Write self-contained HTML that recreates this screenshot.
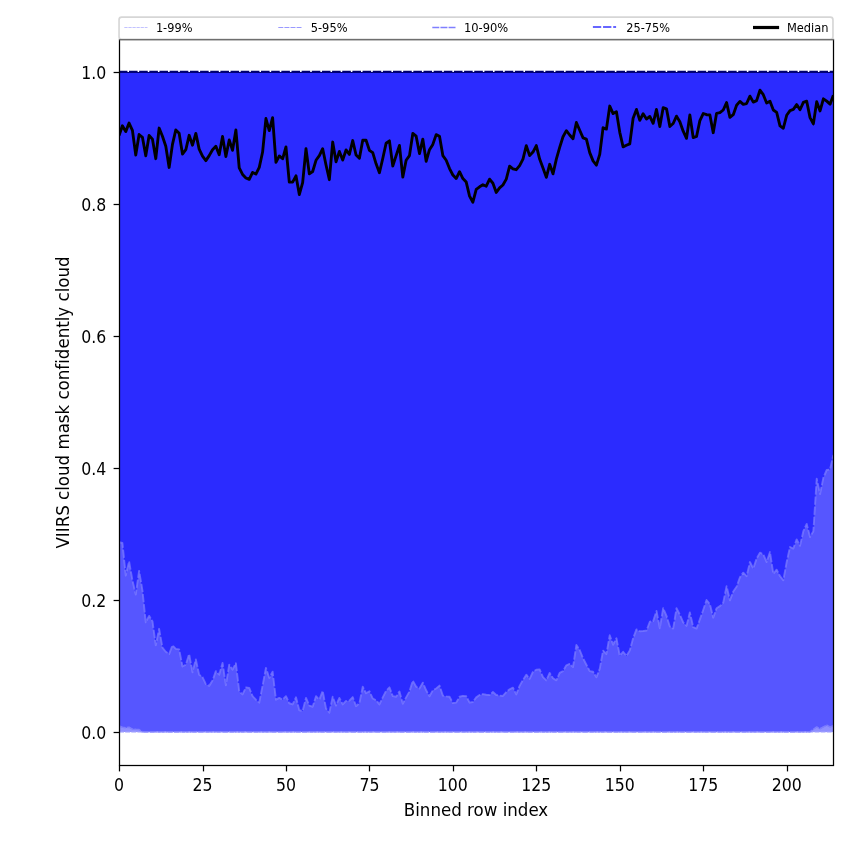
<!DOCTYPE html>
<html lang="en"><head><meta charset="utf-8"><title>VIIRS cloud mask confidently cloud</title>
<style>html,body{margin:0;padding:0;background:#fff;}body{width:850px;height:850px;overflow:hidden;}svg{display:block;}text{font-family:"DejaVu Sans", "Liberation Sans", sans-serif;fill:#000;font-variant-ligatures:none;font-feature-settings:"liga" 0,"clig" 0;}</style></head><body>
<svg width="850" height="850" viewBox="0 0 850 850">
<rect x="0" y="0" width="850" height="850" fill="#ffffff"/>
<clipPath id="ax"><rect x="119.0" y="39.0" width="715.0" height="727.0"/></clipPath>
<g clip-path="url(#ax)">
<rect x="119.0" y="72.0" width="715.0" height="660.0" fill="#8f8fff"/>
<polygon fill="#5656ff" points="119.0,72.0 119.0,726.1 119.06,726.10 122.40,727.50 125.74,728.00 129.07,727.50 132.41,729.30 135.75,729.60 139.09,729.80 142.43,732.00 145.76,732.00 149.10,732.00 152.44,732.00 155.78,732.00 159.12,732.00 162.45,732.00 165.79,732.00 169.13,732.00 172.47,732.00 175.81,732.00 179.14,732.00 182.48,732.00 185.82,732.00 189.16,732.00 192.50,732.00 195.83,732.00 199.17,732.00 202.51,732.00 205.85,732.00 209.19,732.00 212.53,732.00 215.86,732.00 219.20,732.00 222.54,732.00 225.88,732.00 229.22,732.00 232.55,732.00 235.89,732.00 239.23,732.00 242.57,732.00 245.91,732.00 249.24,732.00 252.58,732.00 255.92,732.00 259.26,732.00 262.60,732.00 265.93,732.00 269.27,732.00 272.61,732.00 275.95,732.00 279.29,732.00 282.62,732.00 285.96,732.00 289.30,732.00 292.64,732.00 295.98,732.00 299.31,732.00 302.65,732.00 305.99,732.00 309.33,732.00 312.67,732.00 316.00,732.00 319.34,732.00 322.68,732.00 326.02,732.00 329.36,732.00 332.69,732.00 336.03,732.00 339.37,732.00 342.71,732.00 346.05,732.00 349.38,732.00 352.72,732.00 356.06,732.00 359.40,732.00 362.74,732.00 366.07,732.00 369.41,732.00 372.75,732.00 376.09,732.00 379.43,732.00 382.76,732.00 386.10,732.00 389.44,732.00 392.78,732.00 396.12,732.00 399.46,732.00 402.79,732.00 406.13,732.00 409.47,732.00 412.81,732.00 416.15,732.00 419.48,732.00 422.82,732.00 426.16,732.00 429.50,732.00 432.84,732.00 436.17,732.00 439.51,732.00 442.85,732.00 446.19,732.00 449.53,732.00 452.86,732.00 456.20,732.00 459.54,732.00 462.88,732.00 466.22,732.00 469.55,732.00 472.89,732.00 476.23,732.00 479.57,732.00 482.91,732.00 486.24,732.00 489.58,732.00 492.92,732.00 496.26,732.00 499.60,732.00 502.93,732.00 506.27,732.00 509.61,732.00 512.95,732.00 516.29,732.00 519.62,732.00 522.96,732.00 526.30,732.00 529.64,732.00 532.98,732.00 536.31,732.00 539.65,732.00 542.99,732.00 546.33,732.00 549.67,732.00 553.00,732.00 556.34,732.00 559.68,732.00 563.02,732.00 566.36,732.00 569.70,732.00 573.03,732.00 576.37,732.00 579.71,732.00 583.05,732.00 586.39,732.00 589.72,732.00 593.06,732.00 596.40,732.00 599.74,732.00 603.08,732.00 606.41,732.00 609.75,732.00 613.09,732.00 616.43,732.00 619.77,732.00 623.10,732.00 626.44,732.00 629.78,732.00 633.12,732.00 636.46,732.00 639.79,732.00 643.13,732.00 646.47,732.00 649.81,732.00 653.15,732.00 656.48,732.00 659.82,732.00 663.16,732.00 666.50,732.00 669.84,732.00 673.17,732.00 676.51,732.00 679.85,732.00 683.19,732.00 686.53,732.00 689.86,732.00 693.20,732.00 696.54,732.00 699.88,732.00 703.22,732.00 706.55,732.00 709.89,732.00 713.23,732.00 716.57,732.00 719.91,732.00 723.24,732.00 726.58,732.00 729.92,732.00 733.26,732.00 736.60,732.00 739.93,732.00 743.27,732.00 746.61,732.00 749.95,732.00 753.29,732.00 756.63,732.00 759.96,732.00 763.30,732.00 766.64,732.00 769.98,732.00 773.32,732.00 776.65,732.00 779.99,732.00 783.33,732.00 786.67,732.00 790.01,732.00 793.34,732.00 796.68,732.00 800.02,732.00 803.36,732.00 806.70,732.00 810.03,732.00 813.37,729.50 816.71,727.20 820.05,729.00 823.39,727.20 826.72,725.40 830.06,727.20 833.40,725.80 834.0,725.8 834.0,72.0"/>
<polygon fill="#2b2bff" points="119.0,72.0 119.0,542.29 119.06,542.29 122.40,543.00 125.74,575.61 129.07,561.47 132.41,580.29 135.75,594.65 139.09,570.88 142.43,590.29 145.76,622.35 149.10,615.88 152.44,621.18 155.78,645.29 159.12,628.82 162.45,647.65 165.79,651.76 169.13,654.12 172.47,645.29 175.81,648.82 179.14,649.41 182.48,666.47 185.82,664.71 189.16,654.12 192.50,672.35 195.83,659.41 199.17,674.71 202.51,677.06 205.85,684.12 209.19,685.88 212.53,680.59 215.86,671.18 219.20,674.71 222.54,662.94 225.88,685.29 229.22,664.65 232.55,669.71 235.89,663.24 239.23,691.47 242.57,694.41 245.91,687.35 249.24,687.94 252.58,696.18 255.92,699.71 259.26,702.65 262.60,685.59 265.93,667.94 269.27,677.94 272.61,671.71 275.95,699.71 279.29,697.94 282.62,699.71 285.96,696.18 289.30,703.24 292.64,704.41 295.98,697.35 299.31,710.29 302.65,710.88 305.99,697.94 309.33,705.59 312.67,706.76 316.00,696.18 319.34,699.71 322.68,690.88 326.02,708.53 329.36,712.65 332.69,696.76 336.03,705.59 339.37,697.94 342.71,704.41 346.05,700.88 349.38,700.65 352.72,697.12 356.06,706.18 359.40,703.24 362.74,686.76 366.07,693.24 369.41,691.24 372.75,698.53 376.09,700.29 379.43,704.41 382.76,697.35 386.10,690.88 389.44,687.35 392.78,696.18 396.12,696.76 399.46,691.47 402.79,703.82 406.13,697.35 409.47,691.47 412.81,680.65 416.15,686.76 419.48,688.53 422.82,682.65 426.16,690.29 429.50,696.18 432.84,690.29 436.17,688.53 439.51,685.59 442.85,695.59 446.19,696.41 449.53,696.76 452.86,703.00 456.20,702.65 459.54,696.76 462.88,695.82 466.22,696.18 469.55,702.65 472.89,702.06 476.23,697.35 479.57,695.00 482.91,694.06 486.24,694.76 489.58,695.00 492.92,692.06 496.26,695.00 499.60,695.59 502.93,695.94 506.27,692.06 509.61,689.35 512.95,687.71 516.29,694.41 519.62,685.88 522.96,680.00 526.30,674.71 529.64,678.82 532.98,671.76 536.31,669.76 539.65,669.41 542.99,677.06 546.33,680.35 549.67,672.94 553.00,678.24 556.34,680.35 559.68,672.94 563.02,671.18 566.36,665.29 569.70,663.88 573.03,667.06 576.37,645.06 579.71,650.00 583.05,658.24 586.39,664.71 589.72,671.18 593.06,671.76 596.40,677.29 599.74,668.82 603.08,650.59 606.41,654.12 609.75,635.29 613.09,644.71 616.43,638.24 619.77,655.88 623.10,651.76 626.44,655.88 629.78,650.59 633.12,638.24 636.46,629.41 639.79,631.18 643.13,630.94 646.47,630.59 649.81,621.76 653.15,621.18 656.48,610.94 659.82,628.24 663.16,608.24 666.50,615.88 669.84,626.47 673.17,628.59 676.51,608.24 679.85,614.71 683.19,622.35 686.53,625.88 689.86,612.35 693.20,627.06 696.54,628.59 699.88,619.41 703.22,610.00 706.55,600.00 709.89,604.12 713.23,617.65 716.57,608.24 719.91,606.18 723.24,602.65 726.58,586.18 729.92,600.29 733.26,591.47 736.60,586.76 739.93,577.35 743.27,572.65 746.61,576.18 749.95,562.06 753.29,568.53 756.63,558.53 759.96,552.65 763.30,554.41 766.64,562.06 769.98,552.06 773.32,573.82 776.65,569.71 779.99,576.18 783.33,580.29 786.67,562.06 790.01,547.00 793.34,548.53 796.68,539.41 800.02,545.88 803.36,531.18 806.70,523.88 810.03,537.06 813.37,531.18 816.71,478.82 820.05,494.14 823.39,477.65 826.72,470.00 830.06,469.41 833.40,454.97 834.0,454.97 834.0,72.0"/>
<line x1="119.06" y1="731.8" x2="834.0" y2="731.8" stroke="#9a9aff" stroke-width="1.4" stroke-dasharray="5.0 1.1"/>
<polyline fill="none" stroke="#7d7dff" stroke-width="1.5" stroke-linejoin="round" stroke-dasharray="7.1 0.9" points="119.06,725.85 122.40,727.25 125.74,727.75 129.07,727.25 132.41,729.05 135.75,729.35 139.09,729.55 142.43,731.75 145.76,731.75 149.10,731.75 152.44,731.75 155.78,731.75 159.12,731.75 162.45,731.75 165.79,731.75 169.13,731.75 172.47,731.75 175.81,731.75 179.14,731.75 182.48,731.75 185.82,731.75 189.16,731.75 192.50,731.75 195.83,731.75 199.17,731.75 202.51,731.75 205.85,731.75 209.19,731.75 212.53,731.75 215.86,731.75 219.20,731.75 222.54,731.75 225.88,731.75 229.22,731.75 232.55,731.75 235.89,731.75 239.23,731.75 242.57,731.75 245.91,731.75 249.24,731.75 252.58,731.75 255.92,731.75 259.26,731.75 262.60,731.75 265.93,731.75 269.27,731.75 272.61,731.75 275.95,731.75 279.29,731.75 282.62,731.75 285.96,731.75 289.30,731.75 292.64,731.75 295.98,731.75 299.31,731.75 302.65,731.75 305.99,731.75 309.33,731.75 312.67,731.75 316.00,731.75 319.34,731.75 322.68,731.75 326.02,731.75 329.36,731.75 332.69,731.75 336.03,731.75 339.37,731.75 342.71,731.75 346.05,731.75 349.38,731.75 352.72,731.75 356.06,731.75 359.40,731.75 362.74,731.75 366.07,731.75 369.41,731.75 372.75,731.75 376.09,731.75 379.43,731.75 382.76,731.75 386.10,731.75 389.44,731.75 392.78,731.75 396.12,731.75 399.46,731.75 402.79,731.75 406.13,731.75 409.47,731.75 412.81,731.75 416.15,731.75 419.48,731.75 422.82,731.75 426.16,731.75 429.50,731.75 432.84,731.75 436.17,731.75 439.51,731.75 442.85,731.75 446.19,731.75 449.53,731.75 452.86,731.75 456.20,731.75 459.54,731.75 462.88,731.75 466.22,731.75 469.55,731.75 472.89,731.75 476.23,731.75 479.57,731.75 482.91,731.75 486.24,731.75 489.58,731.75 492.92,731.75 496.26,731.75 499.60,731.75 502.93,731.75 506.27,731.75 509.61,731.75 512.95,731.75 516.29,731.75 519.62,731.75 522.96,731.75 526.30,731.75 529.64,731.75 532.98,731.75 536.31,731.75 539.65,731.75 542.99,731.75 546.33,731.75 549.67,731.75 553.00,731.75 556.34,731.75 559.68,731.75 563.02,731.75 566.36,731.75 569.70,731.75 573.03,731.75 576.37,731.75 579.71,731.75 583.05,731.75 586.39,731.75 589.72,731.75 593.06,731.75 596.40,731.75 599.74,731.75 603.08,731.75 606.41,731.75 609.75,731.75 613.09,731.75 616.43,731.75 619.77,731.75 623.10,731.75 626.44,731.75 629.78,731.75 633.12,731.75 636.46,731.75 639.79,731.75 643.13,731.75 646.47,731.75 649.81,731.75 653.15,731.75 656.48,731.75 659.82,731.75 663.16,731.75 666.50,731.75 669.84,731.75 673.17,731.75 676.51,731.75 679.85,731.75 683.19,731.75 686.53,731.75 689.86,731.75 693.20,731.75 696.54,731.75 699.88,731.75 703.22,731.75 706.55,731.75 709.89,731.75 713.23,731.75 716.57,731.75 719.91,731.75 723.24,731.75 726.58,731.75 729.92,731.75 733.26,731.75 736.60,731.75 739.93,731.75 743.27,731.75 746.61,731.75 749.95,731.75 753.29,731.75 756.63,731.75 759.96,731.75 763.30,731.75 766.64,731.75 769.98,731.75 773.32,731.75 776.65,731.75 779.99,731.75 783.33,731.75 786.67,731.75 790.01,731.75 793.34,731.75 796.68,731.75 800.02,731.75 803.36,731.75 806.70,731.75 810.03,731.75 813.37,729.25 816.71,726.95 820.05,728.75 823.39,726.95 826.72,725.15 830.06,726.95 833.40,725.55"/>
<polyline fill="none" stroke="#8080ff" stroke-opacity="0.68" stroke-width="1.9" stroke-linejoin="round" stroke-dasharray="8.3 1.854" points="119.06,542.29 122.40,543.00 125.74,575.61 129.07,561.47 132.41,580.29 135.75,594.65 139.09,570.88 142.43,590.29 145.76,622.35 149.10,615.88 152.44,621.18 155.78,645.29 159.12,628.82 162.45,647.65 165.79,651.76 169.13,654.12 172.47,645.29 175.81,648.82 179.14,649.41 182.48,666.47 185.82,664.71 189.16,654.12 192.50,672.35 195.83,659.41 199.17,674.71 202.51,677.06 205.85,684.12 209.19,685.88 212.53,680.59 215.86,671.18 219.20,674.71 222.54,662.94 225.88,685.29 229.22,664.65 232.55,669.71 235.89,663.24 239.23,691.47 242.57,694.41 245.91,687.35 249.24,687.94 252.58,696.18 255.92,699.71 259.26,702.65 262.60,685.59 265.93,667.94 269.27,677.94 272.61,671.71 275.95,699.71 279.29,697.94 282.62,699.71 285.96,696.18 289.30,703.24 292.64,704.41 295.98,697.35 299.31,710.29 302.65,710.88 305.99,697.94 309.33,705.59 312.67,706.76 316.00,696.18 319.34,699.71 322.68,690.88 326.02,708.53 329.36,712.65 332.69,696.76 336.03,705.59 339.37,697.94 342.71,704.41 346.05,700.88 349.38,700.65 352.72,697.12 356.06,706.18 359.40,703.24 362.74,686.76 366.07,693.24 369.41,691.24 372.75,698.53 376.09,700.29 379.43,704.41 382.76,697.35 386.10,690.88 389.44,687.35 392.78,696.18 396.12,696.76 399.46,691.47 402.79,703.82 406.13,697.35 409.47,691.47 412.81,680.65 416.15,686.76 419.48,688.53 422.82,682.65 426.16,690.29 429.50,696.18 432.84,690.29 436.17,688.53 439.51,685.59 442.85,695.59 446.19,696.41 449.53,696.76 452.86,703.00 456.20,702.65 459.54,696.76 462.88,695.82 466.22,696.18 469.55,702.65 472.89,702.06 476.23,697.35 479.57,695.00 482.91,694.06 486.24,694.76 489.58,695.00 492.92,692.06 496.26,695.00 499.60,695.59 502.93,695.94 506.27,692.06 509.61,689.35 512.95,687.71 516.29,694.41 519.62,685.88 522.96,680.00 526.30,674.71 529.64,678.82 532.98,671.76 536.31,669.76 539.65,669.41 542.99,677.06 546.33,680.35 549.67,672.94 553.00,678.24 556.34,680.35 559.68,672.94 563.02,671.18 566.36,665.29 569.70,663.88 573.03,667.06 576.37,645.06 579.71,650.00 583.05,658.24 586.39,664.71 589.72,671.18 593.06,671.76 596.40,677.29 599.74,668.82 603.08,650.59 606.41,654.12 609.75,635.29 613.09,644.71 616.43,638.24 619.77,655.88 623.10,651.76 626.44,655.88 629.78,650.59 633.12,638.24 636.46,629.41 639.79,631.18 643.13,630.94 646.47,630.59 649.81,621.76 653.15,621.18 656.48,610.94 659.82,628.24 663.16,608.24 666.50,615.88 669.84,626.47 673.17,628.59 676.51,608.24 679.85,614.71 683.19,622.35 686.53,625.88 689.86,612.35 693.20,627.06 696.54,628.59 699.88,619.41 703.22,610.00 706.55,600.00 709.89,604.12 713.23,617.65 716.57,608.24 719.91,606.18 723.24,602.65 726.58,586.18 729.92,600.29 733.26,591.47 736.60,586.76 739.93,577.35 743.27,572.65 746.61,576.18 749.95,562.06 753.29,568.53 756.63,558.53 759.96,552.65 763.30,554.41 766.64,562.06 769.98,552.06 773.32,573.82 776.65,569.71 779.99,576.18 783.33,580.29 786.67,562.06 790.01,547.00 793.34,548.53 796.68,539.41 800.02,545.88 803.36,531.18 806.70,523.88 810.03,537.06 813.37,531.18 816.71,478.82 820.05,494.14 823.39,477.65 826.72,470.00 830.06,469.41 833.40,454.97"/>
<line x1="119.0" y1="72.5" x2="834.0" y2="72.5" stroke="#000078" stroke-width="1"/>
<line x1="119.0" y1="71.45" x2="834.0" y2="71.45" stroke="#00006e" stroke-width="1.2" stroke-dasharray="8.6 1.554" stroke-dashoffset="0.15"/>
<polyline fill="none" stroke="#000" stroke-width="2.85" stroke-linejoin="round" stroke-linecap="butt" points="119.06,135.59 122.40,125.75 125.74,131.61 129.07,123.05 132.41,130.29 135.75,155.10 139.09,134.52 142.43,137.35 145.76,155.78 149.10,135.46 152.44,139.12 155.78,158.72 159.12,128.05 162.45,136.18 165.79,146.18 169.13,167.45 172.47,144.41 175.81,129.91 179.14,133.24 182.48,154.01 185.82,149.71 189.16,135.31 192.50,145.19 195.83,133.35 199.17,149.12 202.51,156.18 205.85,160.62 209.19,155.59 212.53,149.71 215.86,146.29 219.20,154.78 222.54,136.40 225.88,156.54 229.22,139.93 232.55,150.31 235.89,129.93 239.23,167.94 242.57,174.41 245.91,177.94 249.24,179.36 252.58,172.40 255.92,174.07 259.26,167.35 262.60,152.06 265.93,118.52 269.27,130.66 272.61,117.58 275.95,162.42 279.29,155.93 282.62,158.78 285.96,146.99 289.30,182.06 292.64,182.06 295.98,175.81 299.31,194.54 302.65,182.65 305.99,148.75 309.33,173.84 312.67,171.47 316.00,160.29 319.34,155.59 322.68,148.75 326.02,165.00 329.36,179.72 332.69,142.05 336.03,161.84 339.37,151.46 342.71,160.07 346.05,149.93 349.38,154.42 352.72,140.52 356.06,155.00 359.40,158.31 362.74,140.29 366.07,140.29 369.41,150.29 372.75,152.65 376.09,163.82 379.43,172.78 382.76,158.53 386.10,143.24 389.44,140.87 392.78,165.95 396.12,155.59 399.46,145.46 402.79,177.13 406.13,160.29 409.47,155.59 412.81,133.46 416.15,136.18 419.48,153.60 422.82,139.11 426.16,161.25 429.50,149.71 432.84,144.41 436.17,134.64 439.51,136.18 442.85,155.59 446.19,160.29 449.53,168.53 452.86,175.00 456.20,178.54 459.54,171.69 462.88,178.53 466.22,182.06 469.55,196.18 472.89,202.19 476.23,189.35 479.57,186.76 482.91,184.75 486.24,186.19 489.58,179.11 492.92,183.24 496.26,192.42 499.60,187.94 502.93,185.00 506.27,179.12 509.61,166.16 512.95,168.88 516.29,169.72 519.62,165.59 522.96,159.12 526.30,145.58 529.64,155.60 532.98,152.06 536.31,145.58 539.65,159.12 542.99,167.94 546.33,177.36 549.67,164.28 553.00,173.84 556.34,159.12 559.68,147.35 563.02,136.76 566.36,130.64 569.70,135.00 573.03,138.78 576.37,122.52 579.71,130.29 583.05,137.94 586.39,139.12 589.72,152.65 593.06,160.88 596.40,165.13 599.74,154.41 603.08,127.69 606.41,129.13 609.75,106.05 613.09,113.60 616.43,111.69 619.77,132.35 623.10,146.84 626.44,145.29 629.78,143.88 633.12,118.24 636.46,109.40 639.79,120.36 643.13,113.75 646.47,119.07 649.81,116.46 653.15,123.31 656.48,109.40 659.82,126.60 663.16,107.64 666.50,108.82 669.84,126.48 673.17,123.53 676.51,116.11 679.85,121.76 683.19,131.18 686.53,138.36 689.86,114.93 693.20,137.66 696.54,136.47 699.88,120.59 703.22,113.52 706.55,114.71 709.89,114.94 713.23,132.72 716.57,113.29 719.91,112.71 723.24,110.00 726.58,102.58 729.92,117.42 733.26,114.71 736.60,105.29 739.93,101.40 743.27,104.36 746.61,103.53 749.95,96.11 753.29,102.13 756.63,100.59 759.96,90.22 763.30,94.71 766.64,102.95 769.98,101.16 773.32,110.00 776.65,112.35 779.99,125.88 783.33,128.25 786.67,115.29 790.01,110.59 793.34,109.41 796.68,104.58 800.02,109.78 803.36,102.35 806.70,101.16 810.03,117.65 813.37,123.89 816.71,101.64 820.05,110.95 823.39,98.81 826.72,101.18 830.06,104.13 833.40,95.29"/>
</g>
<rect x="119.5" y="39.5" width="714.0" height="726.0" fill="none" stroke="#000" stroke-width="1.25"/>
<line x1="119.50" y1="765.5" x2="119.50" y2="771.4" stroke="#000" stroke-width="1.25"/>
<text transform="translate(119.06,790.90) scale(0.945,1.07)" font-size="16.67" text-anchor="middle">0</text>
<line x1="203.50" y1="765.5" x2="203.50" y2="771.4" stroke="#000" stroke-width="1.25"/>
<text transform="translate(202.51,790.90) scale(0.945,1.07)" font-size="16.67" text-anchor="middle">25</text>
<line x1="286.50" y1="765.5" x2="286.50" y2="771.4" stroke="#000" stroke-width="1.25"/>
<text transform="translate(285.96,790.90) scale(0.945,1.07)" font-size="16.67" text-anchor="middle">50</text>
<line x1="369.50" y1="765.5" x2="369.50" y2="771.4" stroke="#000" stroke-width="1.25"/>
<text transform="translate(369.41,790.90) scale(0.945,1.07)" font-size="16.67" text-anchor="middle">75</text>
<line x1="453.50" y1="765.5" x2="453.50" y2="771.4" stroke="#000" stroke-width="1.25"/>
<text transform="translate(452.86,790.90) scale(0.945,1.07)" font-size="16.67" text-anchor="middle">100</text>
<line x1="536.50" y1="765.5" x2="536.50" y2="771.4" stroke="#000" stroke-width="1.25"/>
<text transform="translate(536.31,790.90) scale(0.945,1.07)" font-size="16.67" text-anchor="middle">125</text>
<line x1="620.50" y1="765.5" x2="620.50" y2="771.4" stroke="#000" stroke-width="1.25"/>
<text transform="translate(619.77,790.90) scale(0.945,1.07)" font-size="16.67" text-anchor="middle">150</text>
<line x1="703.50" y1="765.5" x2="703.50" y2="771.4" stroke="#000" stroke-width="1.25"/>
<text transform="translate(703.22,790.90) scale(0.945,1.07)" font-size="16.67" text-anchor="middle">175</text>
<line x1="787.50" y1="765.5" x2="787.50" y2="771.4" stroke="#000" stroke-width="1.25"/>
<text transform="translate(786.67,790.90) scale(0.945,1.07)" font-size="16.67" text-anchor="middle">200</text>
<line x1="113.6" y1="732.50" x2="119.5" y2="732.50" stroke="#000" stroke-width="1.25"/>
<text transform="translate(106.30,738.90) scale(0.945,1.07)" font-size="16.67" text-anchor="end">0.0</text>
<line x1="113.6" y1="600.50" x2="119.5" y2="600.50" stroke="#000" stroke-width="1.25"/>
<text transform="translate(106.30,606.90) scale(0.945,1.07)" font-size="16.67" text-anchor="end">0.2</text>
<line x1="113.6" y1="468.50" x2="119.5" y2="468.50" stroke="#000" stroke-width="1.25"/>
<text transform="translate(106.30,474.90) scale(0.945,1.07)" font-size="16.67" text-anchor="end">0.4</text>
<line x1="113.6" y1="336.50" x2="119.5" y2="336.50" stroke="#000" stroke-width="1.25"/>
<text transform="translate(106.30,342.90) scale(0.945,1.07)" font-size="16.67" text-anchor="end">0.6</text>
<line x1="113.6" y1="204.50" x2="119.5" y2="204.50" stroke="#000" stroke-width="1.25"/>
<text transform="translate(106.30,210.90) scale(0.945,1.07)" font-size="16.67" text-anchor="end">0.8</text>
<line x1="113.6" y1="72.50" x2="119.5" y2="72.50" stroke="#000" stroke-width="1.25"/>
<text transform="translate(106.30,78.90) scale(0.945,1.07)" font-size="16.67" text-anchor="end">1.0</text>
<text transform="translate(476.00,815.70) scale(1.0,1.06)" font-size="16.67" text-anchor="middle">Binned row index</text>
<text transform="translate(69.20,402.50) rotate(-90) scale(1.0,1.06)" font-size="16.67" text-anchor="middle">VIIRS cloud mask confidently cloud</text>
<rect x="119.05" y="17.05" width="713.9" height="22.3" rx="2.6" ry="2.6" fill="#fff" fill-opacity="0.8" stroke="#cccccc" stroke-opacity="0.8" stroke-width="1.67"/>
<line x1="119" y1="39.5" x2="834" y2="39.5" stroke="#6e6e6e" stroke-width="1.25"/>
<line x1="124.3" y1="27.5" x2="147.5" y2="27.5" stroke="#0000ff" stroke-opacity="0.3" stroke-width="0.8" stroke-dasharray="3.3 0.77"/>
<text transform="translate(155.90,31.80) scale(0.98,1.04)" font-size="11.57" text-anchor="start">1-99%</text>
<line x1="278.3" y1="27.5" x2="301.5" y2="27.5" stroke="#0000ff" stroke-opacity="0.4" stroke-width="1.2" stroke-dasharray="5.0 1.1"/>
<text transform="translate(310.70,31.80) scale(0.99,1.04)" font-size="11.57" text-anchor="start">5-95%</text>
<line x1="432.3" y1="27.5" x2="455.5" y2="27.5" stroke="#0000ff" stroke-opacity="0.5" stroke-width="1.55" stroke-dasharray="7.0 1.13"/>
<text transform="translate(463.90,31.80) scale(0.994,1.04)" font-size="11.57" text-anchor="start">10-90%</text>
<line x1="592.9" y1="26.9" x2="616.1" y2="26.9" stroke="#0000ff" stroke-opacity="0.6" stroke-width="2.0" stroke-dasharray="8.3 1.854"/>
<text transform="translate(626.30,31.80) scale(0.98,1.04)" font-size="11.57" text-anchor="start">25-75%</text>
<line x1="753" y1="27.5" x2="779.1" y2="27.5" stroke="#000" stroke-width="3.2"/>
<text transform="translate(786.90,31.80) scale(0.989,1.04)" font-size="11.57" text-anchor="start">Median</text>
</svg></body></html>
